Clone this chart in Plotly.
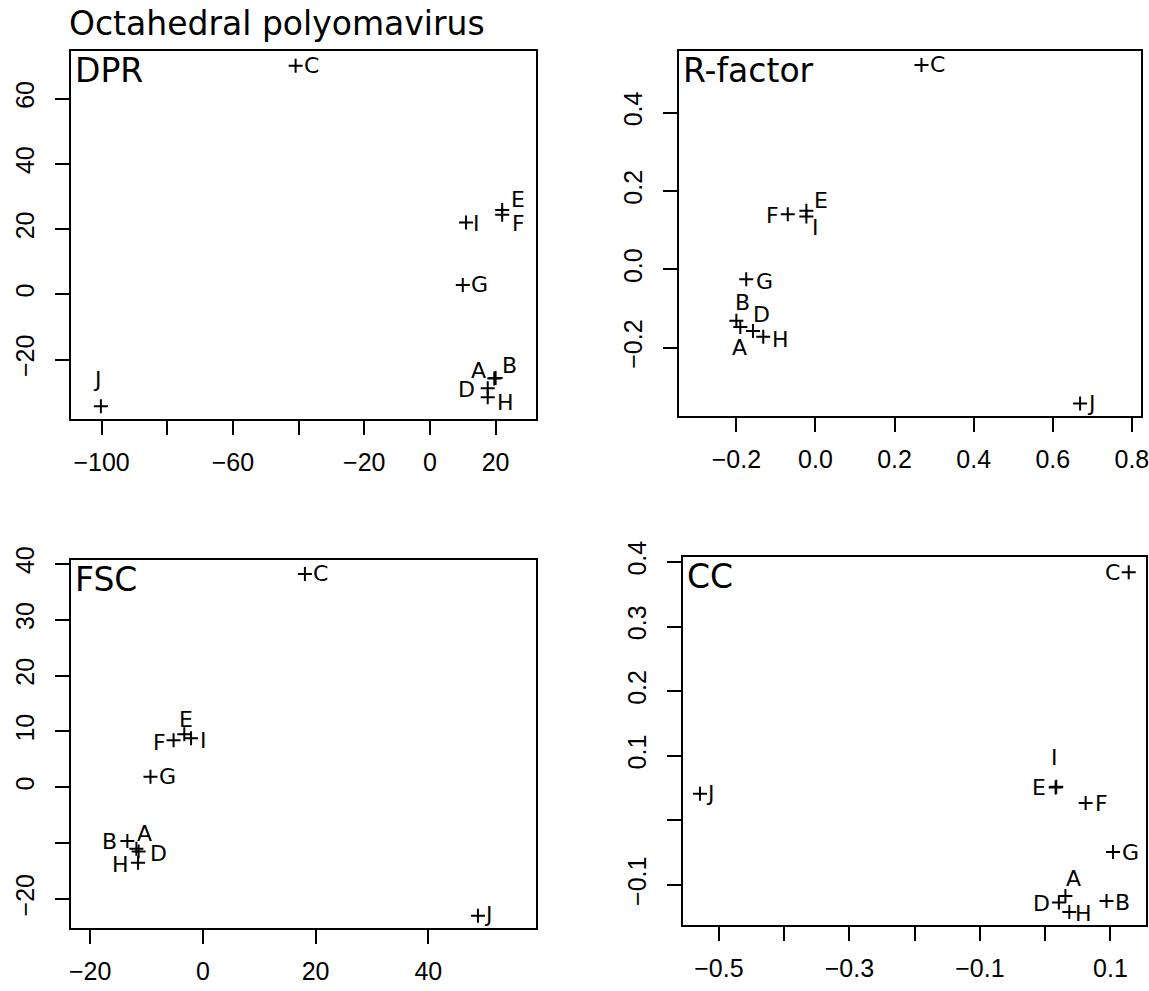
import plotly.graph_objects as go

W, H = 1149, 991

labels = ["A", "B", "C", "D", "E", "F", "G", "H", "I", "J"]

# DPR panel
dpr_x = [19.6, 20.0, -40.9, 17.6, 22.0, 22.0, 10.0, 17.6, 11.0, -100.2]
dpr_y = [-25.8, -25.6, 70.1, -28.8, 25.9, 24.4, 2.9, -31.5, 22.0, -34.3]

# R-factor panel
rf_x = [-0.190, -0.200, 0.268, -0.158, -0.023, -0.070, -0.175, -0.132, -0.023, 0.669]
rf_y = [-0.147, -0.131, 0.522, -0.157, 0.150, 0.141, -0.025, -0.172, 0.135, -0.342]

# FSC panel
fsc_x = [-11.8, -13.4, 18.1, -11.4, -3.3, -5.2, -9.3, -11.5, -2.1, 48.8]
fsc_y = [-11.0, -9.6, 38.2, -11.5, 9.5, 8.4, 1.9, -13.5, 8.8, -23.0]

# CC panel
cc_x = [0.031, 0.094, 0.128, 0.021, 0.016, 0.062, 0.104, 0.037, 0.017, -0.529]
cc_y = [-0.117, -0.125, 0.384, -0.127, 0.051, 0.027, -0.049, -0.142, 0.052, 0.041]

# Tick values / labels
dpr_xticks = [-100, -80, -60, -40, -20, 0, 20]
dpr_xtext = ["\u2212100", "", "\u221260", "", "\u221220", "0", "20"]
dpr_yticks = [-20, 0, 20, 40, 60]
dpr_ytext = ["\u221220", "0", "20", "40", "60"]

rf_xticks = [-0.2, 0.0, 0.2, 0.4, 0.6, 0.8]
rf_xtext = ["\u22120.2", "0.0", "0.2", "0.4", "0.6", "0.8"]
rf_yticks = [-0.2, 0.0, 0.2, 0.4]
rf_ytext = ["\u22120.2", "0.0", "0.2", "0.4"]

fsc_xticks = [-20, 0, 20, 40]
fsc_xtext = ["\u221220", "0", "20", "40"]
fsc_yticks = [-20, -10, 0, 10, 20, 30, 40]
fsc_ytext = ["\u221220", "", "0", "10", "20", "30", "40"]

cc_xticks = [-0.5, -0.4, -0.3, -0.2, -0.1, 0.0, 0.1]
cc_xtext = ["\u22120.5", "", "\u22120.3", "", "\u22120.1", "", "0.1"]
cc_yticks = [-0.1, 0.0, 0.1, 0.2, 0.3, 0.4]
cc_ytext = ["\u22120.1", "", "0.1", "0.2", "0.3", "0.4"]

# ---- layout / style (pixel geometry, label offsets) ----
def px_dom_x(a, b):
    return [a / W, b / W]

def px_dom_y(top, bottom):
    return [1 - bottom / H, 1 - top / H]

panels = [
    dict(name="DPR", x=dpr_x, y=dpr_y, xr=[-109.3, 32.3], yr=[-38.2, 74.6],
         xt=(dpr_xticks, dpr_xtext), yt=(dpr_yticks, dpr_ytext),
         dx=px_dom_x(71, 536), dy=px_dom_y(51, 419),
         off=[(-16, 8), (14, 12), (16, 0), (-21, -1), (16, 10), (16, -9),
              (17, 0), (18, -5), (10, -1), (-3, 27)]),
    dict(name="R-factor", x=rf_x, y=rf_y, xr=[-0.345, 0.823], yr=[-0.374, 0.5575],
         xt=(rf_xticks, rf_xtext), yt=(rf_yticks, rf_ytext),
         dx=px_dom_x(679, 1141), dy=px_dom_y(51, 416),
         off=[(-1, -20), (6, 18), (16, 0), (9, 16), (15, 10), (-15, -1),
              (18, -2), (17, -3), (9, -11), (11, 0)]),
    dict(name="FSC", x=fsc_x, y=fsc_y, xr=[-23.4, 59.1], yr=[-25.2, 40.7],
         xt=(fsc_xticks, fsc_xtext), yt=(fsc_yticks, fsc_ytext),
         dx=px_dom_x(71, 536), dy=px_dom_y(560, 928),
         off=[(8, 15), (-18, -1), (16, 0), (20, -2), (2, 15), (-14, -2),
              (17, 0), (-18, -2), (12, -2), (11, 1)]),
    dict(name="CC", x=cc_x, y=cc_y, xr=[-0.555, 0.1545], yr=[-0.162, 0.4077],
         xt=(cc_xticks, cc_xtext), yt=(cc_yticks, cc_ytext),
         dx=px_dom_x(683, 1146), dy=px_dom_y(557, 925),
         off=[(8, 17), (16, -1), (-16, 0), (-17, -1), (-17, 0), (16, -1),
              (17, 0), (14, -1), (-2, 29), (11, 0)]),
]

TICK_FONT = dict(family="Liberation Sans, Arial, sans-serif", size=25, color="black")
TEXT_FONT = "DejaVu Sans, sans-serif"

fig = go.Figure()
annotations = []
layout = dict(
    width=W, height=H, margin=dict(l=0, r=0, t=0, b=0, autoexpand=False),
    paper_bgcolor="white", plot_bgcolor="white", showlegend=False,
    template="none",
)

for i, p in enumerate(panels):
    k = "" if i == 0 else str(i + 1)
    xa, ya = "x" + k, "y" + k
    fig.add_trace(go.Scatter(
        x=p["x"], y=p["y"], mode="markers", xaxis=xa, yaxis=ya,
        marker=dict(symbol="cross-thin", size=10,
                    line=dict(width=2, color="black"), color="black"),
        hoverinfo="skip",
    ))
    common = dict(showline=True, linecolor="black", linewidth=2, mirror=True,
                  ticks="outside", ticklen=14, tickwidth=2, tickcolor="black",
                  showgrid=False, zeroline=False, tickfont=TICK_FONT,
                  tickmode="array", fixedrange=True, automargin=False,
                  ticklabeloverflow="allow")
    layout["xaxis" + k] = dict(common, domain=p["dx"], range=p["xr"],
                               tickvals=p["xt"][0], ticktext=p["xt"][1],
                               anchor=ya, ticklabelstandoff=6)
    layout["yaxis" + k] = dict(common, domain=p["dy"], range=p["yr"],
                               tickvals=p["yt"][0], ticktext=p["yt"][1],
                               anchor=xa, tickangle=-90, ticklabelstandoff=11)
    # point labels
    for lab, xv, yv, (ox, oy) in zip(labels, p["x"], p["y"], p["off"]):
        annotations.append(dict(
            x=xv, y=yv, xref=xa, yref=ya, text=lab, showarrow=False,
            xanchor="center", yanchor="middle", xshift=ox, yshift=oy,
            font=dict(family=TEXT_FONT, size=22, color="black"), borderpad=0,
        ))
    # panel name
    annotations.append(dict(
        x=0, y=1, xref=xa + " domain", yref=ya + " domain", text=p["name"],
        showarrow=False, xanchor="left", yanchor="top", xshift=3, yshift=1,
        font=dict(family=TEXT_FONT, size=33, color="black"), borderpad=0,
    ))

annotations.append(dict(
    x=68 / W, y=1 - 3 / H, xref="paper", yref="paper",
    text="Octahedral polyomavirus", showarrow=False,
    xanchor="left", yanchor="top",
    font=dict(family=TEXT_FONT, size=33, color="black"), borderpad=0,
))

layout["annotations"] = annotations
fig.update_layout(**layout)
fig.write_html("out.html",
               config={"displayModeBar": False},
               post_script="document.body.style.margin='0';"
                           "document.body.style.padding='0';")
